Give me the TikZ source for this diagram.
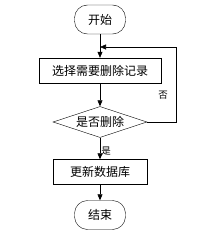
\documentclass[tikz,border=0pt]{standalone}
\usepackage{fontspec}
\setmainfont{Noto Sans CJK SC}
\usetikzlibrary{shapes.geometric, arrows.meta}

\begin{document}
\begin{tikzpicture}[x=1pt, y=-1pt,
    font=\fontsize{12}{14}\selectfont,
    startstop/.style={draw, rectangle, rounded corners=13pt, minimum width=51pt, minimum height=29pt, inner sep=0pt},
    process/.style={draw, rectangle, minimum height=25pt, inner sep=0pt},
    decision/.style={draw, diamond, aspect=3, minimum width=94pt, minimum height=31pt, inner sep=0pt},
    flow/.style={-{Triangle[length=6pt,width=5pt]}, line width=0.6pt},
    smalltext/.style={font=\fontsize{9.5}{10}\selectfont}]
    % Fix the page size
    \useasboundingbox (0,0) rectangle (215,232);

    % Nodes
    \node[startstop] (start) at (100,19.5) {开始};
    \node[process, minimum width=122pt] (select) at (100,70.5) {选择需要删除记录};
    \node[decision] (check) at (100,122) {是否删除};
    \node[process, minimum width=94pt] (update) at (100,172) {更新数据库};
    \node[startstop] (stop) at (100,215) {结束};
    \coordinate (merge) at (100,47);

    % Connectors
    \draw[flow] (start) -- (select);
    \draw[flow] (select) -- (check);
    \draw[flow] (check) -- (update);
    \draw[flow] (update) -- (stop);
    \draw[flow] (check.east) -- ++(29,0) |- (merge);

    % Labels
    \node[smalltext] (no) at (163,95) {否};
    \node[smalltext] (yes) at (106,151) {是};
\end{tikzpicture}
\end{document}
